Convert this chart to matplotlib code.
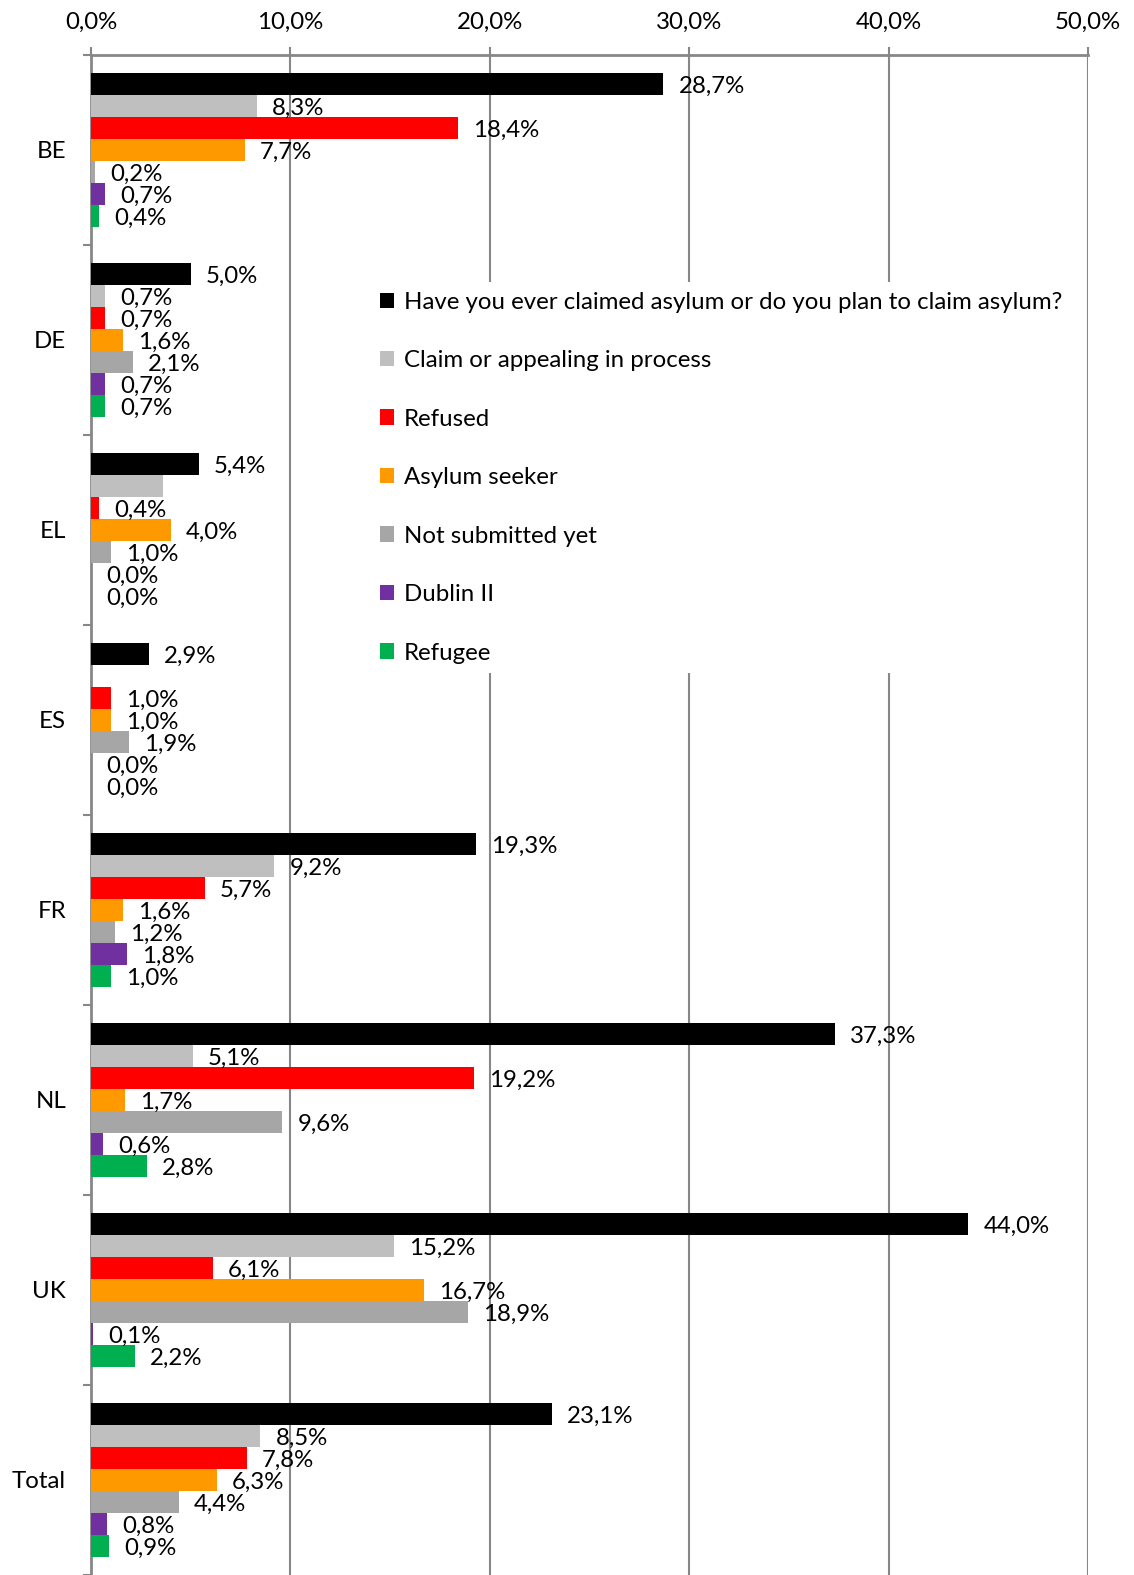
import numpy as np
import matplotlib.pyplot as plt
from matplotlib.patches import Patch

plt.rcParams['font.family'] = ['Lato', 'DejaVu Sans']

countries = ["BE", "DE", "EL", "ES", "FR", "NL", "UK", "Total"]
series = [
    "Have you ever claimed asylum or do you plan to claim asylum?",
    "Claim or appealing in process",
    "Refused",
    "Asylum seeker",
    "Not submitted yet",
    "Dublin II",
    "Refugee",
]
colors = ["#000000", "#BFBFBF", "#FF0000", "#FF9900", "#A6A6A6", "#7030A0", "#00B050"]

ever_claimed = [28.7, 5.0, 5.4, 2.9, 19.3, 37.3, 44.0, 23.1]
in_process = [8.3, 0.7, 3.6, np.nan, 9.2, 5.1, 15.2, 8.5]
refused = [18.4, 0.7, 0.4, 1.0, 5.7, 19.2, 6.1, 7.8]
asylum_seeker = [7.7, 1.6, 4.0, 1.0, 1.6, 1.7, 16.7, 6.3]
not_submitted = [0.2, 2.1, 1.0, 1.9, 1.2, 9.6, 18.9, 4.4]
dublin = [0.7, 0.7, 0.0, 0.0, 1.8, 0.6, 0.1, 0.8]
refugee = [0.4, 0.7, 0.0, 0.0, 1.0, 2.8, 2.2, 0.9]
data = [ever_claimed, in_process, refused, asylum_seeker, not_submitted, dublin, refugee]

# labels not shown in the original (series index, country index)
hidden_labels = {(1, 2)}

fs = 17.3
fig = plt.figure(figsize=(11.34, 15.75), dpi=100)
ax = fig.add_axes([91 / 1134, 0.0, (1088 - 91) / 1134, 1 - 55 / 1575])

n = len(series)
h = 22 / 190
y = np.arange(len(countries))
grid_c = "#878787"

for j, (vals, col) in enumerate(zip(data, colors)):
    pos = y + (j - (n - 1) / 2) * h
    ax.barh(pos, vals, height=h, color=col, zorder=3)
    for i, v in enumerate(vals):
        if np.isnan(v) or (j, i) in hidden_labels:
            continue
        ax.annotate(f"{v:.1f}%".replace(".", ","), (v, pos[i]), xytext=(11, -2),
                    textcoords="offset points", va="center", ha="left",
                    fontsize=fs, zorder=5)

ax.set_xlim(0, 50)
ax.set_ylim(len(countries) - 0.5, -0.5)
ax.xaxis.tick_top()
ax.set_xticks(np.arange(0, 51, 10))
ax.set_xticklabels([f"{t:.1f}%".replace(".", ",") for t in range(0, 51, 10)], fontsize=fs)
ax.tick_params(axis="x", length=6, color=grid_c, width=1.5, pad=10)
ax.grid(axis="x", color=grid_c, linewidth=1.5, zorder=0)

ax.set_yticks(np.arange(-0.5, len(countries) + 0.5, 1), minor=False)
ax.set_yticklabels([])
ax.set_yticks(y, minor=True)
ax.set_yticklabels(countries, minor=True, fontsize=fs)
ax.tick_params(axis="y", which="major", length=6, color=grid_c, width=1.5)
ax.tick_params(axis="y", which="minor", length=0, pad=18)

for s in ["bottom", "right"]:
    ax.spines[s].set_visible(False)
for s in ["top", "left"]:
    ax.spines[s].set_color(grid_c)
    ax.spines[s].set_linewidth(2)

handles = [Patch(facecolor=c) for c in colors]
leg = fig.legend(handles, series, loc="upper left",
                 bbox_to_anchor=(358 / 1134, 1 - 270 / 1575), fontsize=fs,
                 frameon=True, facecolor="white", edgecolor="none", framealpha=1,
                 handlelength=0.6, handleheight=0.6, handletextpad=0.4,
                 labelspacing=1.56, borderpad=0.4, fancybox=False)
leg.set_zorder(10)

fig.savefig("out.png", dpi=100)
